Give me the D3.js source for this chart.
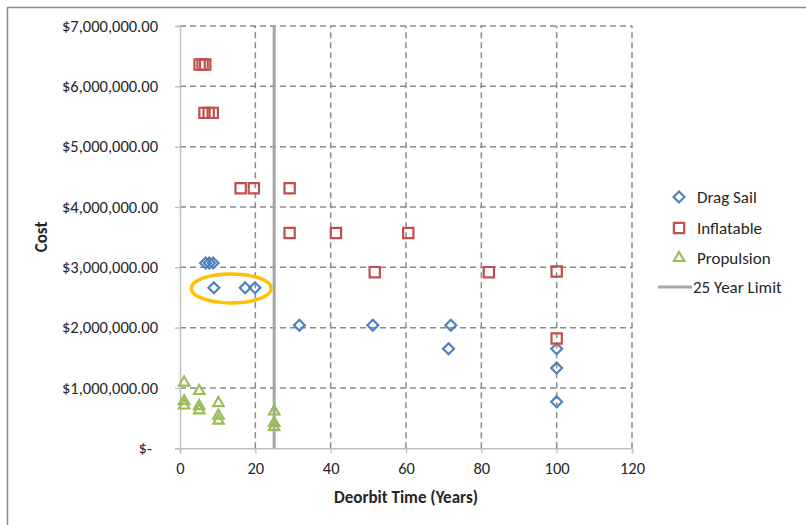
<!DOCTYPE html>
<html>
<head>
<meta charset="utf-8">
<script src="https://cdn.jsdelivr.net/npm/d3@7"></script>
<style>
  html, body { margin: 0; padding: 0; background: #fff; }
  svg { display: block; font-family: Carlito, Calibri, Lato, sans-serif; }
</style>
</head>
<body>
<svg id="chart" width="806" height="525"></svg>
<script>
// Deorbit time (years) and cost (USD) for each end-of-life option
const dragSailYears = [6.8, 7.8, 8.8, 9.0, 17.3, 19.9, 31.7, 51.2, 71.9, 71.3, 100, 100, 100];
const dragSailCost  = [3070000, 3070000, 3070000, 2660000, 2660000, 2660000, 2040000, 2040000, 2040000, 1650000, 1650000, 1330000, 770000];

const inflatableYears = [5.2, 6.0, 6.7, 6.5, 7.6, 8.7, 16.1, 19.6, 29.1, 29.1, 41.4, 60.6, 51.7, 82.0, 100, 100];
const inflatableCost  = [6360000, 6360000, 6360000, 5560000, 5560000, 5560000, 4310000, 4310000, 4310000, 3570000, 3570000, 3570000, 2920000, 2920000, 2930000, 1820000];

const propulsionYears = [1.1, 1.1, 1.1, 5.1, 5.1, 5.1, 10.2, 10.2, 10.2, 25, 25, 25];
const propulsionCost  = [1090000, 780000, 710000, 950000, 700000, 630000, 750000, 540000, 460000, 610000, 420000, 350000];

const limitYears = 25;

const xTicks = [0, 20, 40, 60, 80, 100, 120];
const yTicks = [0, 1000000, 2000000, 3000000, 4000000, 5000000, 6000000, 7000000];

const seriesNames = ["Drag Sail", "Inflatable", "Propulsion", "25 Year Limit"];
const colors = { drag: "#4F81BD", infl: "#C0504D", prop: "#9BBB59", limit: "#A6A6A6" };

const svg = d3.select("#chart");

// chart frame
svg.append("path")
  .attr("d", "M7.5,530 L7.5,7.5 L810,7.5")
  .attr("fill", "none").attr("stroke", "#8c8c8c").attr("stroke-width", 1.5);

const x = d3.scaleLinear().domain([0, 120]).range([180, 632]);
const y = d3.scaleLinear().domain([0, 7000000]).range([448.3, 26]);

// dashed gridlines
const grid = svg.append("g").attr("stroke", "#8a8a8a").attr("stroke-width", 1.5)
  .attr("stroke-dasharray", "6,4").attr("fill", "none");
grid.selectAll("line.h").data(yTicks.filter(d => d > 0)).join("line")
  .attr("x1", x(0)).attr("x2", x(120))
  .attr("y1", d => y(d)).attr("y2", d => y(d));
grid.selectAll("line.v").data(xTicks.filter(d => d > 0)).join("line")
  .attr("x1", d => x(d)).attr("x2", d => x(d))
  .attr("y1", y(0)).attr("y2", y(7000000));

// axes
const fmtMoney = d => d === 0 ? "$-" : "$" + d3.format(",.2f")(d);

const yAxis = svg.append("g").attr("transform", `translate(${x(0)},0)`)
  .call(d3.axisLeft(y).tickValues(yTicks).tickFormat(fmtMoney).tickSize(5).tickPadding(17));
const xAxis = svg.append("g").attr("transform", `translate(0,${y(0)})`)
  .call(d3.axisBottom(x).tickValues(xTicks).tickSize(5).tickPadding(9));

[xAxis, yAxis].forEach(a => {
  a.select(".domain").attr("stroke", "#BFBFBF").attr("stroke-width", 1.5);
  a.selectAll(".tick line").attr("stroke", "#BFBFBF").attr("stroke-width", 1.3);
  a.selectAll(".tick text").attr("fill", "#262626")
    .style("font-family", "Carlito, Calibri, Lato, sans-serif").style("font-size", "16.5px");
});
yAxis.selectAll(".tick text").filter(d => d === 0).attr("dx", "-6");

// axis titles
svg.append("text").attr("x", 406).attr("y", 503).attr("text-anchor", "middle")
  .attr("font-weight", "bold").attr("font-size", 17).attr("fill", "#262626")
  .text("Deorbit Time (Years)");
svg.append("text").attr("transform", "translate(47,237) rotate(-90)").attr("text-anchor", "middle")
  .attr("font-weight", "bold").attr("font-size", 17).attr("fill", "#262626")
  .text("Cost");

// 25 year limit
svg.append("line")
  .attr("x1", x(limitYears)).attr("x2", x(limitYears))
  .attr("y1", y(0)).attr("y2", y(7000000))
  .attr("stroke", colors.limit).attr("stroke-width", 3);

// marker shapes
const diamond = d3.symbol().type(d3.symbolDiamond2).size(75);
const square = d3.symbol().type(d3.symbolSquare2).size(135);
const triangle = d3.symbol().type(d3.symbolTriangle2).size(78);

function drawSeries(xs, ys, sym, color) {
  svg.append("g").selectAll("path").data(xs.map((v, i) => [v, ys[i]])).join("path")
    .attr("transform", d => `translate(${x(d[0])},${y(d[1])})`)
    .attr("d", sym)
    .attr("fill", "none").attr("stroke", color).attr("stroke-width", 2.2);
}
drawSeries(dragSailYears, dragSailCost, diamond, colors.drag);
drawSeries(inflatableYears, inflatableCost, square, colors.infl);
drawSeries(propulsionYears, propulsionCost, triangle, colors.prop);

// highlight around the drag sail points at ~$2.66M
svg.append("ellipse")
  .attr("cx", x(13.6)).attr("cy", y(2650000)).attr("rx", 40).attr("ry", 14.5)
  .attr("fill", "none").attr("stroke", "#FFC000").attr("stroke-width", 3.5);

// legend
const legend = svg.append("g");
const legendY = [197, 228, 258, 287];
const legendSyms = [diamond, square, triangle];
const legendCols = [colors.drag, colors.infl, colors.prop];
legendSyms.forEach((s, i) => {
  legend.append("path").attr("transform", `translate(679,${legendY[i]})`).attr("d", s)
    .attr("fill", "none").attr("stroke", legendCols[i]).attr("stroke-width", 2.2);
});
legend.append("line").attr("x1", 658).attr("x2", 692).attr("y1", legendY[3]).attr("y2", legendY[3])
  .attr("stroke", colors.limit).attr("stroke-width", 3);
seriesNames.forEach((n, i) => {
  legend.append("text").attr("x", i === 3 ? 693 : 697).attr("y", legendY[i]).attr("dy", "0.35em")
    .attr("font-size", 17).attr("fill", "#262626").text(n);
});
</script>
</body>
</html>
